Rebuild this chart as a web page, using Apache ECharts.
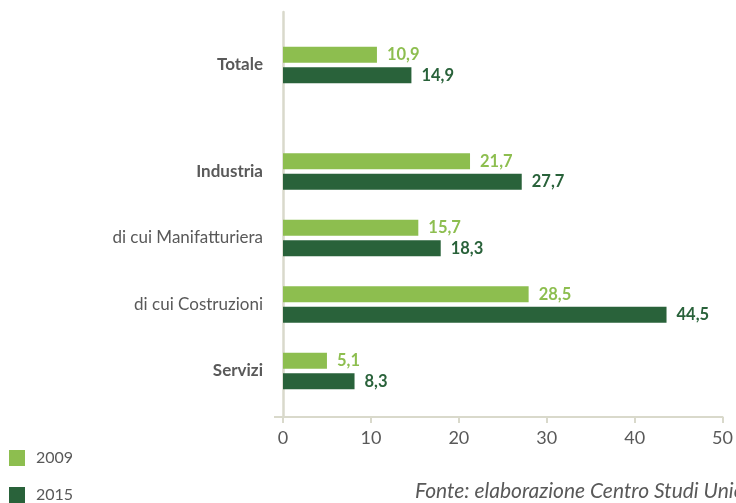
<!DOCTYPE html>
<html>
<head>
<meta charset="utf-8">
<script src="https://cdn.jsdelivr.net/npm/echarts@6/dist/echarts.min.js"></script>
<style>html,body{margin:0;padding:0;background:#fff}#c{width:736px;height:503px}</style>
</head>
<body>
<div id="c"></div>
<script>
var categories = ['Totale', 'Industria', 'di cui Manifatturiera', 'di cui Costruzioni', 'Servizi'];
var boldCats = ['Totale', 'Industria', 'Servizi'];
var v2009 = [10.9, 21.7, 15.7, 28.5, 5.1];
var v2015 = [14.9, 27.7, 18.3, 44.5, 8.3];
var seriesNames = ['2009', '2015'];
var xTicks = [0, 10, 20, 30, 40, 50];
var sourceText = 'Fonte: elaborazione Centro Studi Unioncamere';

var FONT = 'Lato';
var C_LIGHT = '#8DBE4F';
var C_DARK = '#29623A';
var C_AXIS = '#D9D9CB';
var C_TEXT = '#595959';

var L = 283, R = 10;
function fmt(p) { return String(p.value).replace('.', ','); }
function catLabel(v) { return boldCats.indexOf(v) >= 0 ? '{b|' + v + '}' : '{n|' + v + '}'; }
var rich = {
  b: { fontFamily: FONT, fontSize: 17, fontWeight: 'bold', color: C_TEXT },
  n: { fontFamily: FONT, fontSize: 17, color: C_TEXT }
};
// bars in the source image are drawn on a slightly shorter scale than the tick ruler
function hiddenX(gi) {
  return { type: 'value', gridIndex: gi, min: 0, max: 51.4, show: false };
}
function catY(gi, data) {
  return {
    type: 'category', gridIndex: gi, data: data, inverse: true,
    axisLine: { show: false }, axisTick: { show: false },
    axisLabel: { margin: 20, formatter: catLabel, rich: rich }
  };
}
function barSeries(name, gi, data, color) {
  return {
    name: name, type: 'bar', xAxisIndex: gi, yAxisIndex: gi, data: data,
    barWidth: 16, barGap: '28%',
    itemStyle: { color: color },
    label: { show: true, position: 'right', distance: 10, formatter: fmt,
      fontFamily: FONT, fontSize: 16.5, fontWeight: 'bold', color: color },
    silent: true
  };
}

var chart = echarts.init(document.getElementById('c'), null, { renderer: 'canvas' });
chart.setOption({
  animation: false,
  backgroundColor: '#fff',
  grid: [
    { left: L, right: R, top: 12, bottom: 86 },
    { left: L, right: R, top: 31.75, height: 66.5 },
    { left: L, right: R, top: 138.25, height: 266 }
  ],
  xAxis: [
    {
      type: 'value', gridIndex: 0, min: xTicks[0], max: xTicks[xTicks.length - 1], interval: 10,
      splitLine: { show: false },
      axisLine: { show: true, lineStyle: { color: C_AXIS, width: 2 } },
      axisTick: { show: true, length: 6, lineStyle: { color: C_AXIS, width: 2 } },
      axisLabel: { margin: 12, fontFamily: FONT, fontSize: 18, color: C_TEXT }
    },
    hiddenX(1), hiddenX(2)
  ],
  yAxis: [
    {
      type: 'category', gridIndex: 0, data: [''],
      axisLine: { show: true, lineStyle: { color: C_AXIS, width: 2.5 } },
      axisTick: { show: false }, axisLabel: { show: false }
    },
    catY(1, categories.slice(0, 1)),
    catY(2, categories.slice(1))
  ],
  legend: {
    orient: 'vertical', left: 9, top: 450, height: 60, padding: 0,
    itemWidth: 16, itemHeight: 16, itemGap: 21,
    icon: 'rect', data: seriesNames,
    textStyle: { fontFamily: FONT, fontSize: 16, color: C_TEXT, padding: [0, 0, 0, 6] }
  },
  title: {
    text: sourceText, left: 415, top: 481, padding: 0,
    textStyle: { fontFamily: FONT, fontSize: 21, fontStyle: 'italic', fontWeight: 'normal', color: C_TEXT }
  },
  graphic: [
    { type: 'line', shape: { x1: 274, y1: 417, x2: 283, y2: 417 }, style: { stroke: C_AXIS, lineWidth: 2 } }
  ],
  series: [
    barSeries(seriesNames[0], 1, v2009.slice(0, 1), C_LIGHT),
    barSeries(seriesNames[1], 1, v2015.slice(0, 1), C_DARK),
    barSeries(seriesNames[0], 2, v2009.slice(1), C_LIGHT),
    barSeries(seriesNames[1], 2, v2015.slice(1), C_DARK)
  ]
});
</script>
</body>
</html>
